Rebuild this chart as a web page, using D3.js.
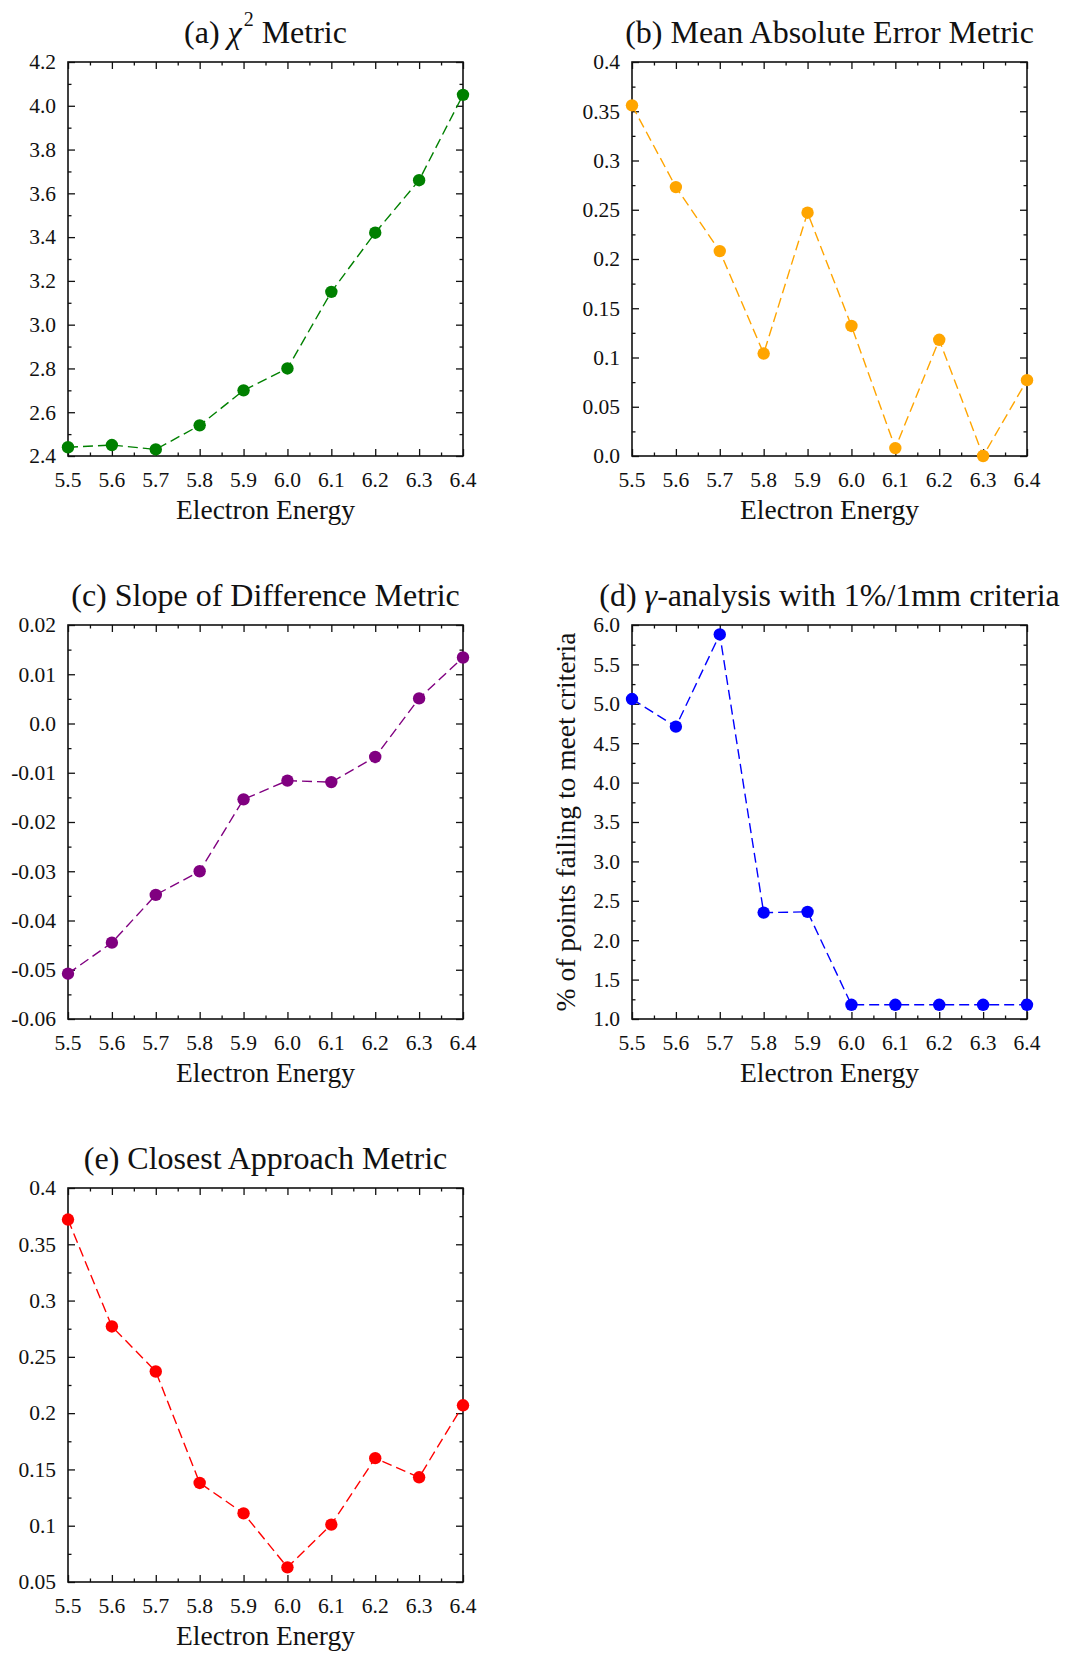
<!DOCTYPE html>
<html>
<head>
<meta charset="utf-8">
<script src="https://cdn.jsdelivr.net/npm/d3@7"></script>
<style>
  html, body { margin: 0; padding: 0; background: #fff; }
  svg { display: block; font-family: "Liberation Serif", "DejaVu Serif", serif; }
</style>
</head>
<body>
<svg id="fig" width="1066" height="1654"></svg>
<script>
// Electron beam energies (MeV) shared by every panel
const energies = [5.5, 5.6, 5.7, 5.8, 5.9, 6.0, 6.1, 6.2, 6.3, 6.4];
const xTickLabels = ["5.5", "5.6", "5.7", "5.8", "5.9", "6.0", "6.1", "6.2", "6.3", "6.4"];

// Metric values per energy
const chiSquared      = [2.44, 2.45, 2.43, 2.54, 2.70, 2.80, 3.15, 3.42, 3.66, 4.05];
const meanAbsError    = [0.356, 0.273, 0.208, 0.104, 0.247, 0.132, 0.008, 0.118, 0.0, 0.077];
const slopeDiff       = [-0.0508, -0.0445, -0.0348, -0.0300, -0.0154, -0.0116, -0.0119, -0.0068, 0.0051, 0.0134];
const gammaFailPct    = [5.06, 4.71, 5.88, 2.35, 2.36, 1.18, 1.18, 1.18, 1.18, 1.18];
const closestApproach = [0.372, 0.277, 0.237, 0.138, 0.111, 0.063, 0.101, 0.160, 0.143, 0.207];

// Y tick values and their printed labels
const yTicksA = [2.4, 2.6, 2.8, 3.0, 3.2, 3.4, 3.6, 3.8, 4.0, 4.2];
const yLabelsA = ["2.4", "2.6", "2.8", "3.0", "3.2", "3.4", "3.6", "3.8", "4.0", "4.2"];
const yTicksB = [0, 0.05, 0.1, 0.15, 0.2, 0.25, 0.3, 0.35, 0.4];
const yLabelsB = ["0.0", "0.05", "0.1", "0.15", "0.2", "0.25", "0.3", "0.35", "0.4"];
const yTicksC = [-0.06, -0.05, -0.04, -0.03, -0.02, -0.01, 0, 0.01, 0.02];
const yLabelsC = ["-0.06", "-0.05", "-0.04", "-0.03", "-0.02", "-0.01", "0.0", "0.01", "0.02"];
const yTicksD = [1.0, 1.5, 2.0, 2.5, 3.0, 3.5, 4.0, 4.5, 5.0, 5.5, 6.0];
const yLabelsD = ["1.0", "1.5", "2.0", "2.5", "3.0", "3.5", "4.0", "4.5", "5.0", "5.5", "6.0"];
const yTicksE = [0.05, 0.1, 0.15, 0.2, 0.25, 0.3, 0.35, 0.4];
const yLabelsE = ["0.05", "0.1", "0.15", "0.2", "0.25", "0.3", "0.35", "0.4"];

const panels = [
  { key: "a", left: 68,  top: 62,   values: chiSquared,      color: "#008000", yTicks: yTicksA, yLabels: yLabelsA },
  { key: "b", left: 632, top: 62,   values: meanAbsError,    color: "#FFA500", yTicks: yTicksB, yLabels: yLabelsB },
  { key: "c", left: 68,  top: 625,  values: slopeDiff,       color: "#800080", yTicks: yTicksC, yLabels: yLabelsC },
  { key: "d", left: 632, top: 625,  values: gammaFailPct,    color: "#0000FF", yTicks: yTicksD, yLabels: yLabelsD,
    yTitle: "% of points failing to meet criteria" },
  { key: "e", left: 68,  top: 1188, values: closestApproach, color: "#FF0000", yTicks: yTicksE, yLabels: yLabelsE }
];

const W = 395, H = 394;
const TICK_FONT = 21.5, TITLE_FONT = 32, LABEL_FONT = 27.5;
const svg = d3.select("#fig");

// midpoints between consecutive major ticks
function midpoints(arr) {
  const out = [];
  for (let i = 0; i < arr.length - 1; i++) out.push((arr[i] + arr[i + 1]) / 2);
  return out;
}

function drawTitle(g, key) {
  const t = g.append("text")
    .attr("x", W / 2).attr("y", -19)
    .attr("text-anchor", "middle")
    .attr("font-size", TITLE_FONT).attr("fill", "#111");
  if (key === "a") {
    t.append("tspan").text("(a) ");
    t.append("tspan").attr("font-style", "italic").text("χ");
    t.append("tspan").attr("font-size", 20).attr("dy", -17).attr("dx", 2).text("2");
    t.append("tspan").attr("dy", 17).text(" Metric");
  } else if (key === "b") {
    t.text("(b) Mean Absolute Error Metric");
  } else if (key === "c") {
    t.text("(c) Slope of Difference Metric");
  } else if (key === "d") {
    t.append("tspan").text("(d) ");
    t.append("tspan").attr("font-style", "italic").text("γ");
    t.append("tspan").text("-analysis with 1%/1mm criteria");
  } else if (key === "e") {
    t.text("(e) Closest Approach Metric");
  }
}

panels.forEach(p => {
  const g = svg.append("g").attr("transform", `translate(${p.left},${p.top})`);
  const x = d3.scaleLinear().domain([5.5, 6.4]).range([0, W]);
  const y = d3.scaleLinear().domain(d3.extent(p.yTicks)).range([H, 0]);

  const xMinor = midpoints(energies);
  const yMinor = midpoints(p.yTicks);

  const styleAxis = sel => {
    sel.select(".domain").remove();
    sel.selectAll("line").attr("stroke", "#111").attr("stroke-width", 1.3);
  };

  // major ticks pointing inward on all four sides
  g.append("g").attr("transform", `translate(0,${H})`)
    .call(d3.axisBottom(x).tickValues(energies).tickSize(-7).tickFormat(""))
    .call(styleAxis);
  g.append("g")
    .call(d3.axisTop(x).tickValues(energies).tickSize(-7).tickFormat(""))
    .call(styleAxis);
  g.append("g")
    .call(d3.axisLeft(y).tickValues(p.yTicks).tickSize(-7).tickFormat(""))
    .call(styleAxis);
  g.append("g").attr("transform", `translate(${W},0)`)
    .call(d3.axisRight(y).tickValues(p.yTicks).tickSize(-7).tickFormat(""))
    .call(styleAxis);

  // minor ticks
  g.append("g").attr("transform", `translate(0,${H})`)
    .call(d3.axisBottom(x).tickValues(xMinor).tickSize(-3.5).tickFormat(""))
    .call(styleAxis);
  g.append("g")
    .call(d3.axisTop(x).tickValues(xMinor).tickSize(-3.5).tickFormat(""))
    .call(styleAxis);
  g.append("g")
    .call(d3.axisLeft(y).tickValues(yMinor).tickSize(-3.5).tickFormat(""))
    .call(styleAxis);
  g.append("g").attr("transform", `translate(${W},0)`)
    .call(d3.axisRight(y).tickValues(yMinor).tickSize(-3.5).tickFormat(""))
    .call(styleAxis);

  // frame
  g.append("rect").attr("width", W).attr("height", H)
    .attr("fill", "none").attr("stroke", "#111").attr("stroke-width", 1.6);

  // tick labels
  g.selectAll(".xl").data(energies).join("text")
    .attr("x", d => x(d)).attr("y", H + 31)
    .attr("text-anchor", "middle").attr("font-size", TICK_FONT).attr("fill", "#111")
    .text((d, i) => xTickLabels[i]);
  g.selectAll(".yl").data(p.yTicks).join("text")
    .attr("x", -12).attr("y", d => y(d)).attr("dy", "0.34em")
    .attr("text-anchor", "end").attr("font-size", TICK_FONT).attr("fill", "#111")
    .text((d, i) => p.yLabels[i]);

  // axis titles
  g.append("text").attr("x", W / 2).attr("y", H + 63)
    .attr("text-anchor", "middle").attr("font-size", LABEL_FONT).attr("fill", "#111")
    .text("Electron Energy");
  if (p.yTitle) {
    g.append("text")
      .attr("transform", `translate(${-67},${H / 2}) rotate(-90)`)
      .attr("text-anchor", "middle").attr("dominant-baseline", "central")
      .attr("font-size", LABEL_FONT).attr("fill", "#111")
      .text(p.yTitle);
  }

  drawTitle(g, p.key);

  // data: dashed line + filled circles
  const line = d3.line().x((d, i) => x(energies[i])).y(d => y(d));
  g.append("path").datum(p.values)
    .attr("d", line).attr("fill", "none")
    .attr("stroke", p.color).attr("stroke-width", 1.4)
    .attr("stroke-dasharray", "10,5");
  g.selectAll(".pt").data(p.values).join("circle")
    .attr("cx", (d, i) => x(energies[i])).attr("cy", d => y(d))
    .attr("r", 6.2).attr("fill", p.color);
});
</script>
</body>
</html>
